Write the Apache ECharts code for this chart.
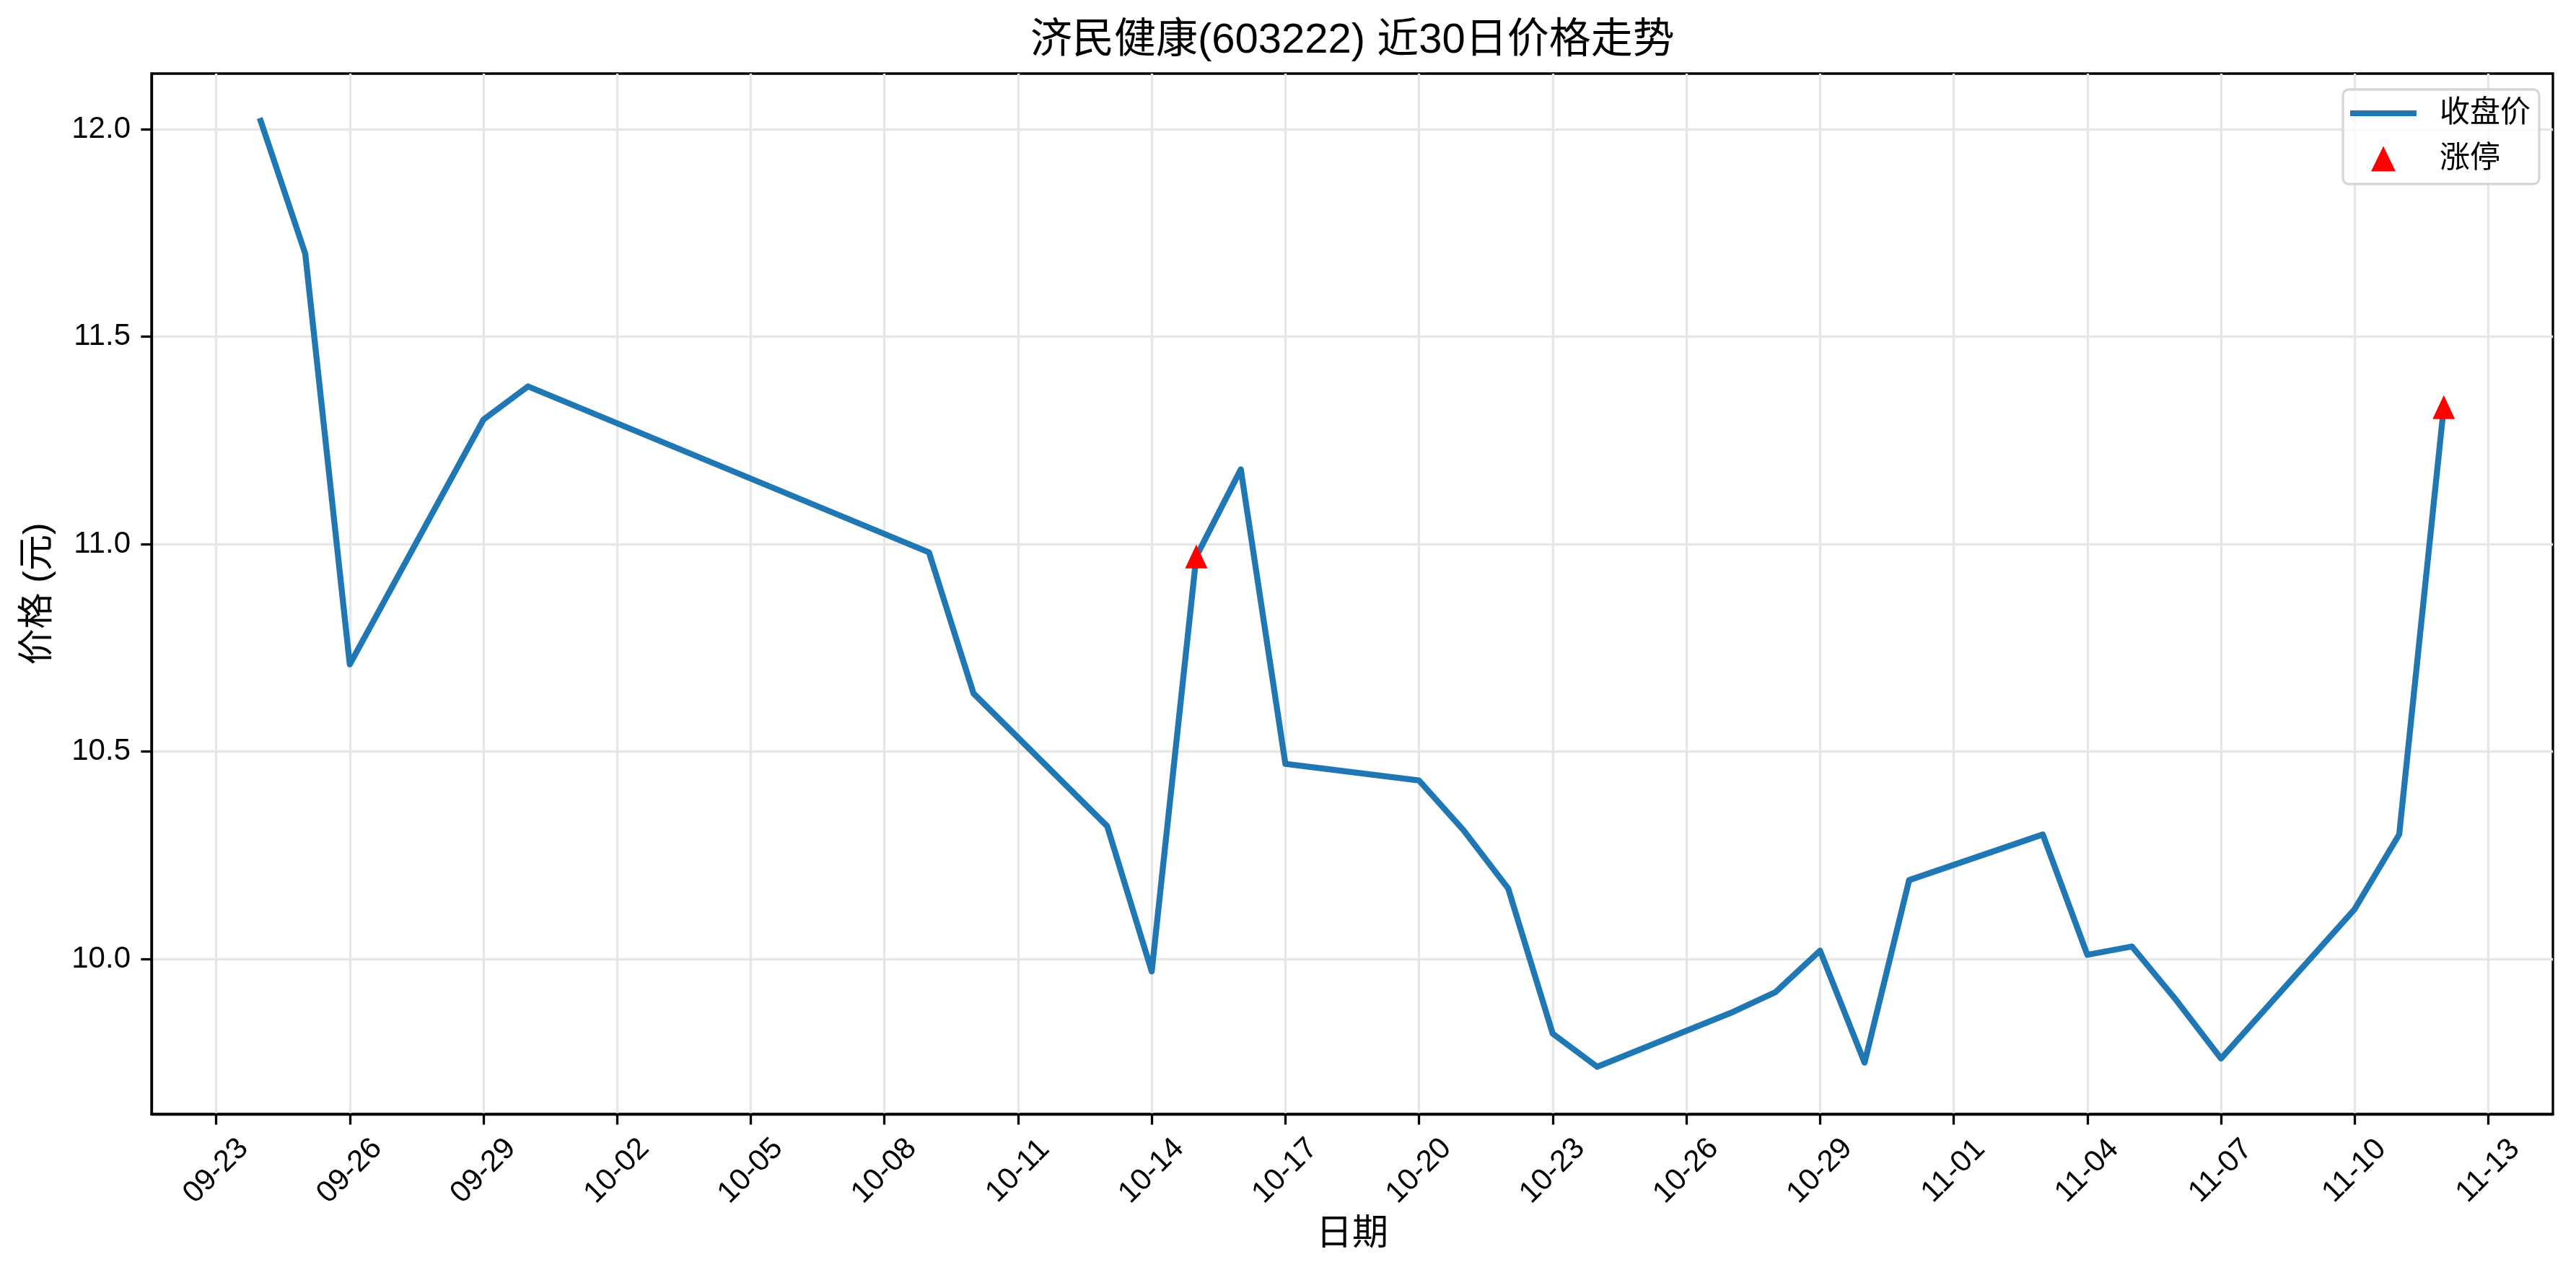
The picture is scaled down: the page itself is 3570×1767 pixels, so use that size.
<!DOCTYPE html>
<html>
<head>
<meta charset="utf-8">
<title>济民健康 近30日价格走势</title>
<script src="https://cdn.jsdelivr.net/npm/echarts@6/dist/echarts.min.js"></script>
<style>
  html, body { margin: 0; padding: 0; background: #fff; }
  #myChart { width: 3570px; height: 1767px; }
</style>
</head>
<body>
<div id="myChart"></div>
<script>
// 数据
const year = 2025;
const tradeDates = ['09-24', '09-25', '09-26', '09-29', '09-30', '10-09', '10-10', '10-13', '10-14', '10-15',
  '10-16', '10-17', '10-20', '10-21', '10-22', '10-23', '10-24', '10-27', '10-28', '10-29',
  '10-30', '10-31', '11-03', '11-04', '11-05', '11-06', '11-07', '11-10', '11-11', '11-12'];
const closePrices = [12.02, 11.70, 10.71, 11.30, 11.38, 10.98, 10.64, 10.32, 9.97, 10.97,
  11.18, 10.47, 10.43, 10.31, 10.17, 9.82, 9.74, 9.87, 9.92, 10.02,
  9.75, 10.19, 10.30, 10.01, 10.03, 9.90, 9.76, 10.12, 10.30, 11.33];
const limitUpDates = ['10-15', '11-12'];
const limitUpPrices = [10.97, 11.33];
const xTickLabels = ['09-23', '09-26', '09-29', '10-02', '10-05', '10-08', '10-11', '10-14', '10-17',
  '10-20', '10-23', '10-26', '10-29', '11-01', '11-04', '11-07', '11-10', '11-13'];
const yTicks = [10.0, 10.5, 11.0, 11.5, 12.0];

// 日期 -> 距 09-23 的天数
function dayNum(md) {
  let [m, d] = md.split('-').map(Number);
  return (Date.UTC(year, m - 1, d) - Date.UTC(year, 8, 23)) / 86400000;
}

const xTickVals = xTickLabels.map(dayNum);
const lineData = tradeDates.map((d, i) => [dayNum(d), closePrices[i]]);
const limitData = limitUpDates.map((d, i) => [dayNum(d), limitUpPrices[i]]);

const font = "'Liberation Sans', 'Noto Sans CJK SC', sans-serif";

let option = {
  animation: false,
  backgroundColor: '#fff',
  textStyle: { fontFamily: font, color: '#000' },
  title: {
    text: '济民健康(603222) 近30日价格走势',
    left: 1428,
    top: 28,
    padding: 0,
    textStyle: { fontFamily: font, fontSize: 58, fontWeight: 'normal', color: '#000', lineHeight: 58 }
  },
  grid: {
    left: 210, right: 32, top: 102, bottom: 223,
    show: true, borderColor: '#000', borderWidth: 3.3,
    outerBoundsMode: 'none'
  },
  legend: [
    {
      data: [{ name: '收盘价', icon: 'rect' }],
      orient: 'vertical', left: 3257, top: 136, padding: 0,
      itemWidth: 92, itemHeight: 8, selectedMode: false,
      itemStyle: { color: '#1f77b4' },
      textStyle: { fontFamily: font, fontSize: 42, color: '#000', padding: [0, 0, 0, 27] }
    },
    {
      data: [{ name: '涨停', icon: 'triangle' }],
      orient: 'vertical', left: 3286, top: 199, padding: 0,
      itemWidth: 34, itemHeight: 35, selectedMode: false,
      itemStyle: { color: '#ff0000', opacity: 1 },
      textStyle: { fontFamily: font, fontSize: 42, color: '#000', padding: [0, 0, 0, 56] }
    }
  ],
  graphic: [{
    type: 'rect', z: 3,
    shape: { x: 3247, y: 124, width: 272, height: 131, r: 8 },
    style: { fill: 'rgba(255,255,255,0.8)', stroke: '#d6d6d6', lineWidth: 3.3 }
  }],
  xAxis: {
    type: 'value',
    min: -1.45, max: 52.45,
    name: '日期', nameLocation: 'middle', nameGap: 142,
    nameTextStyle: { fontFamily: font, fontSize: 50, color: '#000' },
    axisLine: { show: true, onZero: false, lineStyle: { color: '#000', width: 3.3 } },
    axisTick: { show: true, length: 14.6, lineStyle: { color: '#000', width: 3.3 }, customValues: xTickVals },
    axisLabel: {
      customValues: xTickVals,
      rotate: 45, align: 'center', verticalAlign: 'middle', margin: 79,
      fontFamily: font, fontSize: 42, color: '#000',
      formatter: v => xTickLabels[xTickVals.indexOf(v)]
    },
    splitLine: { show: true, lineStyle: { color: '#e6e6e6', width: 3.3 } }
  },
  yAxis: {
    type: 'value',
    min: 9.626, max: 12.134,
    name: '价格 (元)', nameLocation: 'middle', nameGap: 132, nameRotate: 90,
    nameTextStyle: { fontFamily: font, fontSize: 50, color: '#000' },
    axisLine: { show: true, onZero: false, lineStyle: { color: '#000', width: 3.3 } },
    axisTick: { show: true, length: 14.6, lineStyle: { color: '#000', width: 3.3 }, customValues: yTicks },
    axisLabel: {
      customValues: yTicks, margin: 29,
      fontFamily: font, fontSize: 42, color: '#000',
      formatter: v => v.toFixed(1)
    },
    splitLine: { show: true, lineStyle: { color: '#e6e6e6', width: 3.3 } }
  },
  series: [
    {
      name: '收盘价',
      type: 'line',
      data: lineData,
      symbol: 'none',
      color: '#1f77b4',
      lineStyle: { color: '#1f77b4', width: 8.3, join: 'round', cap: 'square' },
      z: 2
    },
    {
      name: '涨停',
      type: 'scatter',
      data: limitData,
      symbol: 'triangle',
      symbolSize: [31, 33],
      itemStyle: { color: '#ff0000', opacity: 1 },
      z: 3
    }
  ]
};

let myChart = echarts.init(document.getElementById('myChart'));
myChart.setOption(option);
</script>
</body>
</html>
